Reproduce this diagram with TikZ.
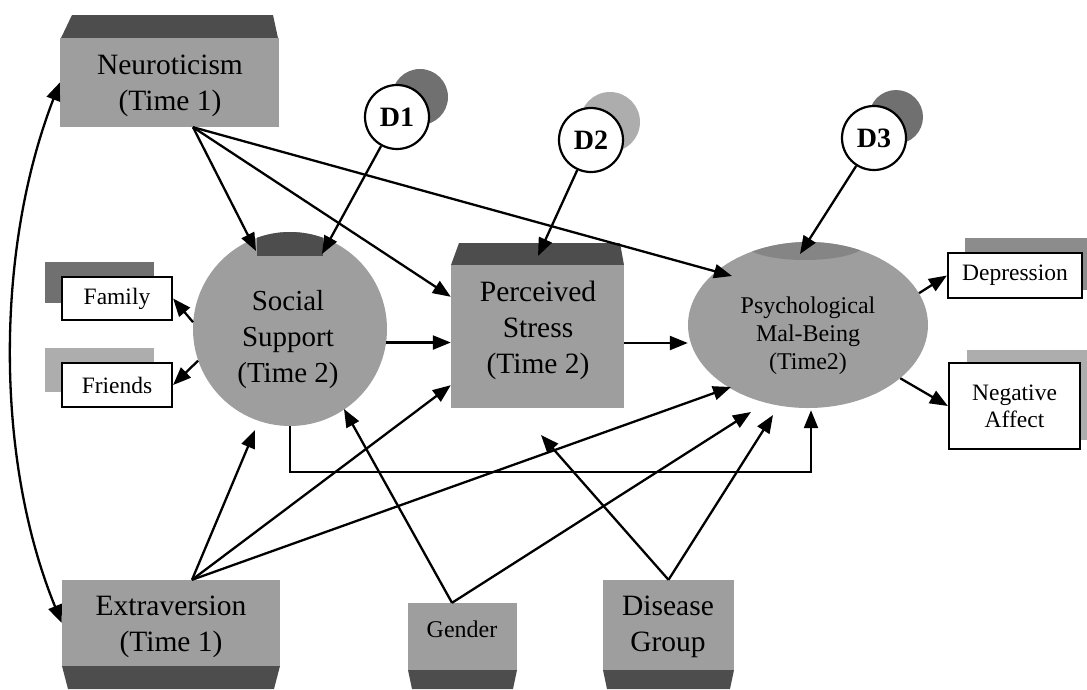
\documentclass[tikz,border=0pt]{standalone}
\usepackage{fontspec}
\setmainfont{Liberation Serif}
\usetikzlibrary{arrows.meta,calc,shapes.geometric}
\definecolor{face}{HTML}{9E9E9E}
\definecolor{band}{HTML}{4D4D4D}
\definecolor{shdark}{HTML}{707070}
\definecolor{shmid}{HTML}{8C8C8C}
\definecolor{shlight}{HTML}{ADADAD}
\definecolor{topdark}{HTML}{858585}
\begin{document}
\begin{tikzpicture}[x=1pt,y=-1pt,
  arr/.style={line width=2.3pt,-{Triangle[length=18pt,width=14pt]}},
  arrb/.style={line width=2.3pt,{Triangle[length=18pt,width=14pt]}-{Triangle[length=18pt,width=14pt]}},
  facebox/.style={rectangle,fill=face,draw=none,inner sep=0pt},
  obs/.style={rectangle,draw=black,line width=2.2pt,fill=white,inner sep=0pt,align=center,font=\fontsize{23.5}{27}\selectfont},
  dcirc/.style={circle,draw=black,line width=2.2pt,fill=white,minimum size=64pt,inner sep=0pt,font=\fontsize{28}{28}\selectfont\bfseries},
  big/.style={align=center,inner sep=0pt,font=\fontsize{29.5}{36}\selectfont},
  small/.style={align=center,inner sep=0pt,font=\fontsize{24}{28}\selectfont},
]
\useasboundingbox (0,0) rectangle (1087,689);

% ---------- shadows of small observed boxes ----------
\fill[shdark] (45,262) rectangle (154,303);
\fill[shlight] (45,348) rectangle (154,392);
\fill[shmid] (965,238) rectangle (1087,290);
\fill[shlight] (967,350) rectangle (1087,440);

% ---------- Neuroticism ----------
\fill[band] (61,38) -- (72,15) -- (273,15) -- (278,38) -- cycle;
\node[facebox, minimum width=219, minimum height=89] (neu) at (169.5,82.5) {};
\node[big] (neuT) at (170,86) {Neuroticism\\(Time 1)};

% ---------- Extraversion ----------
\node[facebox, minimum width=218, minimum height=86] (ext) at (171,623) {};
\fill[band] (62,666) -- (68,689) -- (274,689) -- (280,666) -- cycle;
\node[big] (extT) at (171,627) {Extraversion\\(Time 1)};

% ---------- Gender ----------
\node[facebox, minimum width=109, minimum height=67] (gen) at (462.5,636.5) {};
\fill[band] (408,670) -- (412,689) -- (513,689) -- (517,670) -- cycle;
\node[small] (genT) at (462,629) {Gender};

% ---------- Disease Group ----------
\node[facebox, minimum width=131, minimum height=90] (dis) at (668.5,625) {};
\fill[band] (603,670) -- (607,689) -- (730,689) -- (734,670) -- cycle;
\node[big] (disT) at (668,627) {Disease\\Group};

% ---------- Perceived Stress ----------
\fill[band] (451,265) -- (459,243) -- (620,243) -- (624,265) -- cycle;
\node[facebox, minimum width=173, minimum height=143] (ps) at (537.5,336.5) {};
\node[big] (psT) at (538,330) {Perceived\\Stress\\(Time 2)};

% ---------- Social Support ----------
\node[circle, fill=face, draw=none, minimum size=194pt, inner sep=0pt] (ss) at (290,329) {};
\begin{scope}
  \clip (290,329) circle[radius=97pt];
  \fill[band] (257,220) rectangle (323,256);
\end{scope}
\node[big, font=\fontsize{29}{36}\selectfont] (ssT) at (288,340) {Social\\Support\\(Time 2)};

% ---------- Psychological Mal-Being ----------
\node[ellipse, fill=face, draw=none, minimum width=240pt, minimum height=166pt, inner sep=0pt] (psy) at (808,325) {};
\begin{scope}
  \clip (808,325) ellipse[x radius=120pt, y radius=83pt];
  \fill[topdark] (805,244) ellipse[x radius=60pt, y radius=16pt];
\end{scope}
\node[small] (psyT) at (808,336) {Psychological\\Mal-Being\\(Time2)};

% ---------- observed indicators ----------
\node[obs, minimum width=110pt, minimum height=43pt] (fam) at (117,298.5) {Family};
\node[obs, minimum width=110pt, minimum height=44pt] (fri) at (117,385) {Friends};
\node[obs, minimum width=134pt, minimum height=45pt] (dep) at (1015,275.5) {Depression};
\node[obs, minimum width=131pt, minimum height=86pt] (neg) at (1014.5,406) {Negative\\Affect};

% ---------- disturbances ----------
\fill[shdark] (420,97) circle[radius=28pt];
\node[dcirc] (d1) at (397,117) {D1};
\fill[shlight] (610,122) circle[radius=30pt];
\node[dcirc] (d2) at (591,140) {D2};
\fill[shdark] (896,117) circle[radius=27pt];
\node[dcirc] (d3) at (874,138) {D3};

% ---------- connector anchors ----------
\coordinate (neuA) at ($(neu.south)+(23.5,0)$);
\coordinate (extA) at ($(ext.north)+(21,0)$);
\coordinate (genA) at ($(gen.north)+(-10.5,0)$);
\coordinate (disA) at (dis.north);
\coordinate (ssTopL) at (256,251);
\coordinate (ssTopR) at (322,254);
\coordinate (ssBotL) at (255,430);
\coordinate (ssBotR) at (344,409);
\coordinate (psL1) at ($(ps.north west)+(0,32)$);
\coordinate (psL3) at ($(ps.south west)+(0,-23)$);
\coordinate (psTop) at (538,256);
\coordinate (psBot) at (541,435);
\coordinate (psyTL) at (732,276);
\coordinate (psyTop) at (800,254);
\coordinate (psyBL1) at (731,387);
\coordinate (psyBL2) at (751,412);
\coordinate (psyBL3) at (773,415);
\coordinate (psyB) at ($(psy.south)+(3,2)$);
\coordinate (ssE) at (ss.-8);
\coordinate (psE) at ($(ps.east)+(0,6.5)$);

% ---------- connectors ----------
\draw[arrb] (neu.west) .. controls (-5,250) and (-5,460) .. (ext.west);
\draw[arr] (neuA) -- (ssTopL);
\draw[arr] (neuA) -- (psL1);
\draw[arr] (neuA) -- (psyTL);
\draw[arr] (d1) -- (ssTopR);
\draw[arr] (d2) -- (psTop);
\draw[arr] (d3) -- (psyTop);
\draw[arr] (ss.176) -- (fam.east);
\draw[arr] (ss.199) -- (fri.east);
\draw[arr] (ssE) -- (ssE -| ps.west);
\draw[arr] (psE) -- (psE -| psy.west);
\draw[arr] (psy.16) -- (dep.west);
\draw[arr] (psy.-30) -- (neg.west);
\draw[arr] (ss.south) |- ($(psyB)+(0,62)$) -- (psyB);
\draw[arr] (extA) -- (ssBotL);
\draw[arr] (extA) -- (psL3);
\draw[arr] (extA) -- (psyBL1);
\draw[arr] (genA) -- (ssBotR);
\draw[arr] (genA) -- (psyBL2);
\draw[arr] (disA) -- (psBot);
\draw[arr] (disA) -- (psyBL3);
\end{tikzpicture}
\end{document}
